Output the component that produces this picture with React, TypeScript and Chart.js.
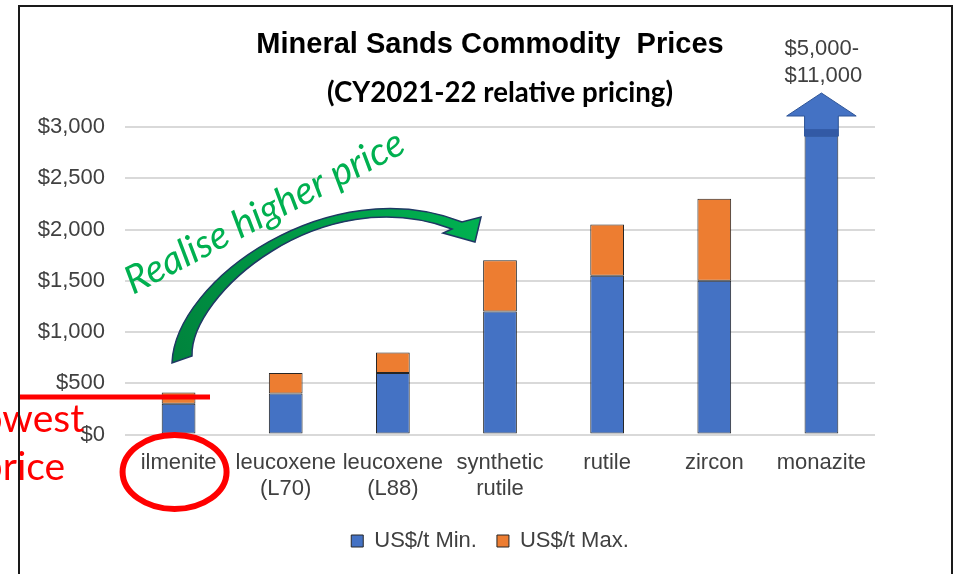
import React, { useEffect, useRef } from "react";
import { Chart, registerables } from "chart.js";

Chart.register(...registerables);

// ---------- data ----------
const categories: (string | string[])[] = [
  "ilmenite",
  ["leucoxene", "(L70)"],
  ["leucoxene", "(L88)"],
  ["synthetic", "rutile"],
  "rutile",
  "zircon",
  "monazite",
];
const minPrices = [300, 400, 600, 1200, 1550, 1500, 2950];
const maxIncrements = [110, 200, 200, 500, 500, 800, 0];
const seriesNames = ["US$/t Min.", "US$/t Max."];
const yTickValues = [0, 500, 1000, 1500, 2000, 2500, 3000];
const monazitePriceLines = ["$5,000-", "$11,000"];
const titleText = "Mineral Sands Commodity  Prices";
const subtitleText = "(CY2021-22 relative pricing)";
const arrowText = "Realise higher price";
const lowestLines = ["Lowest", "price"];
const lowestLevel = 365;

const BLUE = "#4472C4";
const ORANGE = "#ED7D31";
const TICK = "#404040";

function fitFont(ctx: CanvasRenderingContext2D, text: string, target: number, style: string, family: string) {
  ctx.font = `${style} 30px ${family}`;
  const w = ctx.measureText(text).width;
  const size = (30 * target) / w;
  return `${style} ${size.toFixed(2)}px ${family}`;
}

const overlay = {
  id: "overlay",
  afterDraw(chart: any) {
    const ctx: CanvasRenderingContext2D = chart.ctx;
    const ys = chart.scales.y;
    const meta0 = chart.getDatasetMeta(0);
    ctx.save();

    // titles
    ctx.fillStyle = "#000";
    ctx.textAlign = "center";
    ctx.textBaseline = "alphabetic";
    ctx.font = "bold 29px 'Liberation Sans', Arial, sans-serif";
    ctx.fillText(titleText, 490, 53);
    ctx.font = fitFont(ctx, subtitleText, 346, "bold", "Lato, 'Open Sans', sans-serif");
    ctx.fillText(subtitleText, 500, 102);

    // monazite arrow
    const bar = meta0.data[6];
    const bx = bar.x;
    const bw = bar.width;
    const top = bar.y;
    const y3000 = ys.getPixelForValue(3000);
    const tipY = y3000 - 34;
    const baseY = y3000 - 11;
    const headHalf = bw + 1;
    const shaftHalf = bw / 2;
    ctx.beginPath();
    ctx.moveTo(bx, tipY);
    ctx.lineTo(bx + headHalf, baseY);
    ctx.lineTo(bx + shaftHalf, baseY);
    ctx.lineTo(bx + shaftHalf, top + 4);
    ctx.lineTo(bx - shaftHalf, top + 4);
    ctx.lineTo(bx - shaftHalf, baseY);
    ctx.lineTo(bx - headHalf, baseY);
    ctx.closePath();
    ctx.fillStyle = BLUE;
    ctx.fill();
    ctx.strokeStyle = "#2F5597";
    ctx.lineWidth = 1;
    ctx.stroke();
    ctx.fillStyle = "#3259A5";
    ctx.fillRect(bx - shaftHalf, top - 3, bw, 7);

    // monazite price text
    ctx.fillStyle = TICK;
    ctx.textAlign = "left";
    ctx.font = "22px 'Liberation Sans', Arial, sans-serif";
    ctx.fillText(monazitePriceLines[0], bx - 37, 55);
    ctx.fillText(monazitePriceLines[1], bx - 37, 82);

    // green curved arrow
    const g = ctx.createLinearGradient(180, 360, 470, 220);
    g.addColorStop(0, "#00843D");
    g.addColorStop(1, "#00B050");
    ctx.beginPath();
    ctx.moveTo(172, 363);
    ctx.bezierCurveTo(175, 280, 330, 170, 462, 222);
    ctx.lineTo(481, 217);
    ctx.lineTo(475, 242);
    ctx.lineTo(443, 233);
    ctx.lineTo(452, 229);
    ctx.bezierCurveTo(320, 180, 190, 295, 192, 356);
    ctx.closePath();
    ctx.fillStyle = g;
    ctx.fill();
    ctx.strokeStyle = "#1F3864";
    ctx.lineWidth = 1.5;
    ctx.stroke();

    // green text
    ctx.save();
    ctx.translate(133, 295);
    ctx.rotate((-27.6 * Math.PI) / 180);
    ctx.font = fitFont(ctx, arrowText, 310, "italic", "Lato, 'Open Sans', sans-serif");
    ctx.fillStyle = "#00B050";
    ctx.textAlign = "left";
    ctx.fillText(arrowText, 0, 0);
    ctx.restore();

    // red lowest line
    const ly = ys.getPixelForValue(lowestLevel);
    ctx.strokeStyle = "#FF0000";
    ctx.lineWidth = 5;
    ctx.beginPath();
    ctx.moveTo(18, ly);
    ctx.lineTo(210, ly);
    ctx.stroke();

    // red ellipse
    ctx.lineWidth = 6;
    ctx.beginPath();
    ctx.ellipse(meta0.data[0].x - 4, 472, 52, 37, 0, 0, Math.PI * 2);
    ctx.stroke();

    // red text
    ctx.fillStyle = "#FF0000";
    ctx.textAlign = "center";
    ctx.font = "39px Lato, 'Open Sans', sans-serif";
    ctx.fillText(lowestLines[0], 23, 432);
    ctx.fillText(lowestLines[1], 23, 480);

    // frame
    ctx.strokeStyle = "#1a1a1a";
    ctx.lineWidth = 2;
    ctx.strokeRect(19, 6, 933, 620);

    ctx.restore();
  },
};

export default function App() {
  const ref = useRef<HTMLCanvasElement>(null);
  useEffect(() => {
    const chart = new Chart(ref.current as HTMLCanvasElement, {
      type: "bar",
      data: {
        labels: categories,
        datasets: [
          {
            label: seriesNames[0],
            data: minPrices,
            backgroundColor: BLUE,
            borderColor: "#262626",
            borderWidth: 1,
            borderSkipped: false,
            categoryPercentage: 1,
            barPercentage: 0.315,
          },
          {
            label: seriesNames[1],
            data: maxIncrements,
            backgroundColor: ORANGE,
            borderColor: "#262626",
            borderWidth: 1,
            borderSkipped: false,
            categoryPercentage: 1,
            barPercentage: 0.315,
          },
        ],
      },
      options: {
        responsive: false,
        animation: false,
        devicePixelRatio: 1,
        layout: { padding: { top: 127, left: 26, right: 0, bottom: 12 } },
        plugins: {
          title: { display: false },
          tooltip: { enabled: false },
          legend: {
            display: true,
            position: "bottom",
            labels: {
              boxWidth: 12,
              boxHeight: 12,
              padding: 20,
              color: TICK,
              font: { size: 22, family: "'Liberation Sans', Arial, sans-serif" },
            },
          },
        },
        scales: {
          x: {
            stacked: true,
            grid: { display: false, drawTicks: false },
            border: { display: false },
            ticks: {
              color: TICK,
              padding: 15,
              maxRotation: 0,
              autoSkip: false,
              font: { size: 22, family: "'Liberation Sans', Arial, sans-serif" },
            },
            afterFit: (s: any) => {
              s.height = 75.5;
            },
          },
          y: {
            stacked: true,
            min: 0,
            max: 3000,
            grid: { color: "#D9D9D9", lineWidth: 2, drawTicks: false },
            border: { display: false },
            ticks: {
              color: TICK,
              padding: 20,
              font: { size: 22, family: "'Liberation Sans', Arial, sans-serif" },
              callback: (v: any) => "$" + Number(v).toLocaleString("en-US"),
            },
            afterBuildTicks: (s: any) => {
              s.ticks = yTickValues.map((v) => ({ value: v }));
            },
            afterFit: (s: any) => {
              s.width = 99;
            },
          },
          y2: {
            position: "right",
            display: true,
            grid: { display: false, drawTicks: false },
            border: { display: false },
            ticks: { display: false },
            afterFit: (s: any) => {
              s.width = 79;
            },
          },
        },
      },
      plugins: [overlay],
    } as any);
    return () => chart.destroy();
  }, []);
  return (
    <div style={{ position: "absolute", left: 0, top: 0, width: 954, height: 574, background: "#fff" }}>
      <canvas ref={ref} width={954} height={574} style={{ display: "block" }} />
    </div>
  );
}
